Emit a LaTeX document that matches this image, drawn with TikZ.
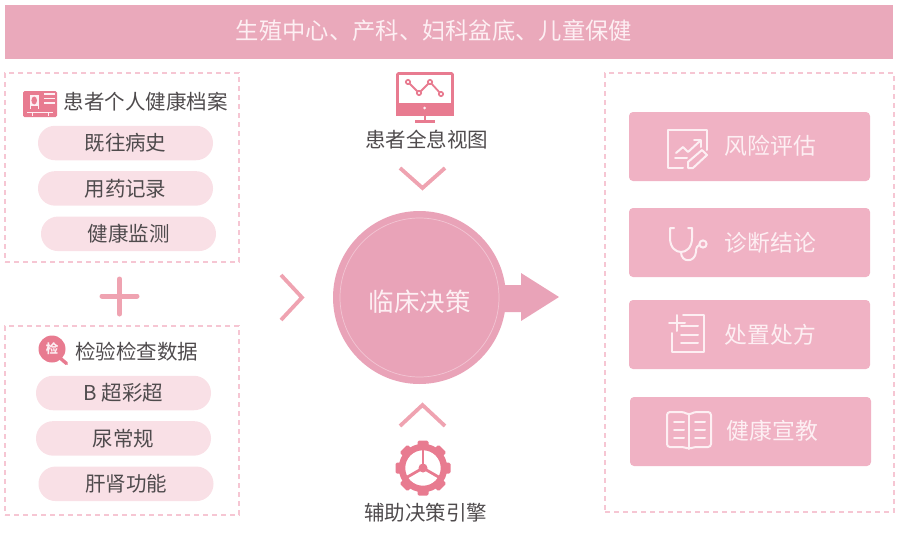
\documentclass[tikz,border=0pt]{standalone}
\usepackage{fontspec}
\setmainfont{Noto Sans CJK SC}
\usetikzlibrary{positioning, shapes, arrows.meta}
\definecolor{barpink}{HTML}{EAA9BB}
\definecolor{pillpink}{HTML}{F9E0E6}
\definecolor{dashpink}{HTML}{F6C6D3}
\definecolor{iconred}{HTML}{E87B90}
\definecolor{actpink}{HTML}{F0B2C4}
\definecolor{hubpink}{HTML}{E9A3B8}
\definecolor{softwhite}{HTML}{FDEFF3}
\definecolor{inkgrey}{HTML}{4F4B4D}

\begin{document}
\begin{tikzpicture}[
    x=1pt, y=-1pt,
    headbar/.style={rectangle, fill=barpink, minimum width=888pt, minimum height=54pt, inner sep=0pt},
    headtext/.style={inner sep=0pt, text=softwhite, font=\fontsize{23.3}{25}\selectfont},
    dashbox/.style={rectangle, draw=dashpink, line width=1.3pt, dash pattern=on 5pt off 4pt, inner sep=0pt},
    pill/.style={rectangle, rounded corners=17pt, fill=pillpink, minimum width=175pt, minimum height=34.5pt, inner sep=0pt, text=inkgrey, font=\fontsize{20.5}{22}\selectfont},
    title/.style={inner sep=0pt, text=inkgrey, font=\fontsize{20.5}{22}\selectfont},
    actbox/.style={rectangle, rounded corners=4pt, fill=actpink, minimum width=241pt, minimum height=69pt, inner sep=0pt},
    acttext/.style={inner sep=0pt, text=softwhite, font=\fontsize{22.8}{24}\selectfont},
    whiteline/.style={draw=softwhite, line width=2pt, line cap=round, line join=round},
    chevron/.style={draw=iconred!70!white, line width=3.8pt}
]
\useasboundingbox (0,0) rectangle (906,533);

% Top bar
\node[headbar] (bar) at (449,32) {};
\node[headtext] (bartext) at (434,31) {生殖中心、产科、妇科盆底、儿童保健};

% Patient record panel
\node[dashbox, minimum width=234pt, minimum height=189pt] (recbox) at (122,167.5) {};
\node[title] (rectitle) at (145.5,102) {患者个人健康档案};
\node[pill] (hist) at (125.5,143) {既往病史};
\node[pill, below=10.5pt of hist] (drug) {用药记录};
\node[pill, below=10.5pt of drug, xshift=3pt] (monitor) {健康监测};

% Record card icon
\fill[iconred, rounded corners=1.5pt] (23,91) rectangle (57,117);
\fill[softwhite] (29.5,95) rectangle (39,109);
\fill[iconred] (34.2,100.5) ellipse (2.8pt and 4pt);
\fill[iconred] (31,109) rectangle (37.5,105.5);
\foreach \ly in {94,98.5,103} \draw[softwhite, line width=1.2pt] (44,\ly) -- (55,\ly);
\draw[softwhite, line width=0.9pt] (27,112.5) -- (53,112.5);
\draw[softwhite, line width=0.9pt] (32,112.5) -- (32,116) (48,112.5) -- (48,116);

% Plus sign
\draw[line cap=round, draw=iconred!70!white, line width=5pt] (102,296) -- (137,296) (119.5,279) -- (119.5,314);

% Lab data panel
\node[dashbox, minimum width=234pt, minimum height=189pt] (labbox) at (122,420.5) {};
\node[title] (labtitle) at (136.5,352) {检验检查数据};
\node[pill] (bscan) at (123.5,393) {B 超彩超};
\node[pill, below=10.5pt of bscan] (urine) {尿常规};
\node[pill, below=10.5pt of urine, xshift=2.5pt] (liver) {肝肾功能};

% Magnifier icon
\draw[iconred, line width=3.4pt, line cap=round] (60,358) -- (66.5,363.5);
\node[circle, fill=iconred, minimum size=27pt, inner sep=0pt, text=softwhite, font=\fontsize{12.5}{12.5}\selectfont\bfseries] (labicon) at (52,349) {检};

% Centre column
\node[title] (viewlabel) at (426.5,140) {患者全息视图};
\node[title] (enginelabel) at (425.5,513) {辅助决策引擎};

% Monitor icon
\draw[iconred, line width=2.8pt, rounded corners=1pt] (397.5,73.5) rectangle (452.5,114);
\fill[iconred] (396,103) rectangle (454,115.5);
\fill[softwhite] (424.5,108) circle (1.5pt);
\draw[iconred, line width=2.6pt] (425,115) -- (425,121);
\draw[iconred, line width=2.6pt] (415,121.5) -- (435,121.5);
\draw[iconred, line width=1.8pt] (408,82) -- (419,93) -- (430,82) -- (441,94);
\foreach \px/\py in {408/82,419/93,430/82,441/94} \draw[iconred, line width=1.6pt, fill=softwhite] (\px,\py) circle (2.2pt);

% Chevrons
\draw[chevron] (400,168) -- (422.5,188) -- (445,168);
\draw[chevron] (400,426) -- (422.5,405) -- (445,426);
\draw[chevron] (281,275) -- (302,297.5) -- (281,320);

% Outgoing arrow, then the circle over it
\fill[hubpink] (495,285) -- (521,285) -- (521,273) -- (559,297) -- (521,321) -- (521,312) -- (495,312) -- cycle;
\node[circle, fill=hubpink, minimum size=173pt, inner sep=0pt] (hub) at (419.5,297.5) {};
\node[circle, draw=softwhite!45!hubpink, line width=0.7pt, minimum size=159pt, inner sep=0pt] (hubring) at (419.5,297.5) {};
\node[inner sep=0pt, text=softwhite, font=\fontsize{25.5}{27}\selectfont] (hubtext) at (419.5,301.5) {临床决策};

% Gear icon
\begin{scope}[shift={(423,468)}]
\foreach \ang in {0,45,...,315}
    \fill[iconred, rotate=\ang, rounded corners=1.5pt] (-5.5,-27.5) rectangle (5.5,-20);
\draw[iconred, line width=6.5pt] (0,0) circle (21pt);
\foreach \ang in {0,120,240}
    \draw[iconred, rotate=\ang, line width=2.8pt] (0,0) -- (0,-19);
\fill[iconred] (0,0) circle (4.5pt);
\end{scope}

% Output panel
\node[dashbox, minimum width=289pt, minimum height=439pt] (outbox) at (749.5,292.5) {};
\node[actbox] (risk) at (749.5,146.5) {};
\node[actbox] (diag) at (749.5,242.5) {};
\node[actbox] (pres) at (749.5,334.5) {};
\node[actbox] (edu) at (750.5,431.5) {};
\node[acttext] (risktext) at (770.5,146) {风险评估};
\node[acttext] (diagtext) at (770.5,243) {诊断结论};
\node[acttext] (prestext) at (770.5,335) {处置处方};
\node[acttext] (edutext) at (772.5,431) {健康宣教};

% Chart and pencil icon
\draw[whiteline] (683,168) -- (668,168) -- (668,130) -- (707,130) -- (707,150);
\draw[whiteline] (676,153) -- (683,147) -- (688,152) -- (700,141);
\draw[whiteline] (694,140) -- (701,140) -- (701,147);
\draw[whiteline] (675,158) -- (687,158);
\draw[whiteline] (688,168) -- (688,162) -- (702,150) -- (707,155) -- (693,168) -- cycle;

% Stethoscope icon
\draw[whiteline] (674,228) -- (670,228) -- (670,238) .. controls (670,248) and (676,252) .. (681,252) .. controls (686,252) and (692,248) .. (692,238) -- (692,228) -- (688,228);
\draw[whiteline] (681,252) .. controls (681,263) and (695,263) .. (696,252) .. controls (696,248) and (697,246) .. (699,245);
\draw[whiteline] (703,244) circle (3.6pt);

% Prescription icon
\draw[whiteline] (683,315) -- (704,315) -- (704,352) -- (672,352) -- (672,333);
\draw[whiteline] (669,323) -- (685,323) (677,315) -- (677,331);
\foreach \ly in {326,335,343} \draw[whiteline] (681,\ly) -- (698,\ly);

% Book icon
\draw[whiteline, rounded corners=3pt] (689,449) -- (684,447) -- (667,447) -- (667,412) -- (684,412) -- (689,415) -- (694,412) -- (711,412) -- (711,447) -- (694,447) -- cycle;
\draw[whiteline] (689,415) -- (689,449);
\foreach \ly in {422,430,438} \draw[whiteline] (674,\ly) -- (684,\ly) (695,\ly) -- (705,\ly);

\end{tikzpicture}
\end{document}
